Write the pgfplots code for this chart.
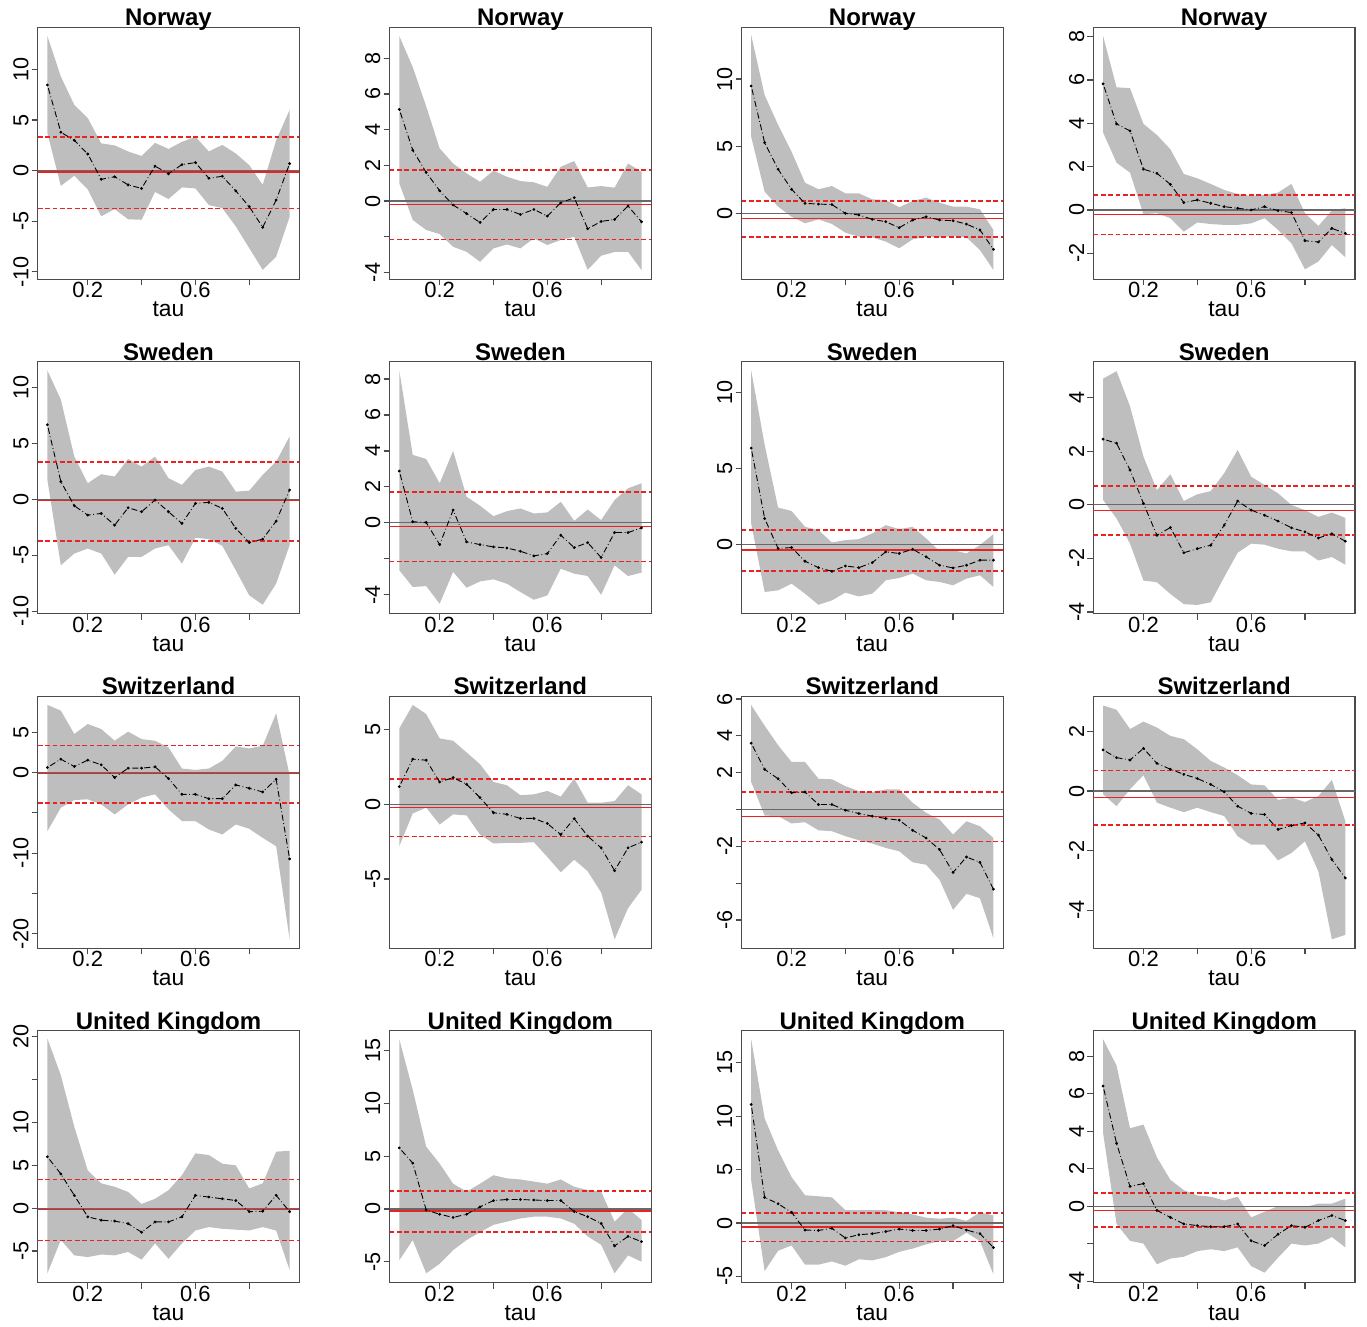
\documentclass[border=0pt]{standalone}
\usepackage{fontspec}
\setmainfont{Liberation Sans}
\usepackage{pgfplots}
\usepackage{pgfplotstable}
\pgfplotsset{compat=1.18}
\usepgfplotslibrary{fillbetween}
\definecolor{bandgray}{RGB}{190,190,190}
\definecolor{zerogray}{RGB}{105,105,105}
\definecolor{refred}{RGB}{232,35,35}
\definecolor{boxgray}{RGB}{75,75,75}

\pgfplotsset{
 panel/.style={
  scale only axis, width=130.8pt, height=126pt, anchor=south west,
  xmin=0.014, xmax=0.986,
  xtick={0.2,0.4,0.6,0.8}, xticklabels={0.2,,0.6,},
  xtick pos=bottom, ytick pos=left,
  tick align=outside, major tick length=3pt,
  axis line style={draw=boxgray, line width=0.6pt},
  tick style={draw=boxgray, line width=0.6pt},
  xticklabel style={font=\fontsize{11}{13}\selectfont, anchor=base},
  xticklabel shift=6.2pt,
  yticklabel style={font=\fontsize{10.8}{12}\selectfont, rotate=90, anchor=base},
  yticklabel shift=1.7pt,
  xlabel={tau},
  xlabel style={at={(axis description cs:0.5,0)}, anchor=base, yshift=-18.7pt, font=\fontsize{11.4}{13}\selectfont},
  every axis title/.style={at={(axis description cs:0.5,1)}, anchor=base, yshift=0.7pt, font=\bfseries\fontsize{12}{14}\selectfont},
  clip=true,
 },
 midline/.style={black, line width=0.45pt, dash pattern=on 0.4pt off 1.3pt on 3pt off 1.3pt, mark=*, mark size=0.45pt, mark options={solid}},
 zeroline/.style={zerogray, line width=0.6pt},
 refline/.style={refred, line width=0.65pt},
 refdash/.style={refred, line width=0.85pt, line cap=butt, dash pattern=on 2.4pt off 1.3pt},
}

\newcommand{\reflines}[3]{%
 \addplot[zeroline] coordinates {(0.014,0) (0.986,0)};
 \addplot[refline] coordinates {(0.014,#2) (0.986,#2)};
 \addplot[refdash] coordinates {(0.014,#1) (0.986,#1)};
 \addplot[refdash] coordinates {(0.014,#3) (0.986,#3)};}
\newcommand{\refA}{\reflines{3.36}{-0.13}{-3.75}}
\newcommand{\refB}{\reflines{1.72}{-0.19}{-2.15}}
\newcommand{\refC}{\reflines{0.94}{-0.37}{-1.74}}
\newcommand{\refD}{\reflines{0.69}{-0.22}{-1.13}}

\newcommand{\panel}[9]{%
 \begin{axis}[panel, at={(#1pt,#2pt)}, ymin=#4, ymax=#5, ytick={#6}, yticklabels={#7}, title={#8}]
  \addplot[name path=hi, draw=none] table[x=tau,y=hi]{#3};
  \addplot[name path=lo, draw=none] table[x=tau,y=lo]{#3};
  \addplot[fill=bandgray, draw=none] fill between[of=hi and lo];
  #9
  \addplot[midline] table[x=tau,y=mid]{#3};
 \end{axis}}

% Norway
\pgfplotstableread{
tau lo mid hi
0.05 3.7 8.47 13.3
0.10 -1.5 3.8 9.3
0.15 -0.5 3.0 6.5
0.20 -1.85 1.65 5.2
0.25 -4.5 -0.85 2.7
0.30 -3.8 -0.6 2.5
0.35 -4.8 -1.4 1.9
0.40 -4.85 -1.75 1.45
0.45 -2.1 0.45 2.75
0.50 -2.8 -0.3 2.15
0.55 -1.65 0.6 2.85
0.60 -1.75 0.8 3.35
0.65 -3.4 -0.75 1.9
0.70 -3.7 -0.55 2.55
0.75 -5.5 -2.0 1.7
0.80 -7.65 -3.55 0.55
0.85 -9.8 -5.6 -1.4
0.90 -8.5 -2.9 3.0
0.95 -4.55 0.7 6.0
}\tA
\pgfplotstableread{
tau lo mid hi
0.05 0.99 5.13 9.24
0.10 -1.06 2.85 7.5
0.15 -1.62 1.6 5.3
0.20 -1.85 0.58 2.95
0.25 -2.56 -0.22 2.1
0.30 -2.84 -0.7 1.55
0.35 -3.4 -1.2 1.08
0.40 -2.65 -0.47 1.7
0.45 -2.43 -0.47 1.36
0.50 -2.65 -0.75 1.12
0.55 -2.09 -0.47 1.05
0.60 -2.46 -0.84 0.8
0.65 -2.18 -0.1 1.92
0.70 -2.0 0.19 2.24
0.75 -3.85 -1.55 0.76
0.80 -3.06 -1.14 0.84
0.85 -2.85 -1.03 0.75
0.90 -2.84 -0.28 2.1
0.95 -3.86 -1.16 1.64
}\tB
\pgfplotstableread{
tau lo mid hi
0.05 5.7 9.48 13.27
0.10 1.61 5.26 8.8
0.15 0.5 3.28 6.58
0.20 -0.25 1.79 4.59
0.25 -0.74 0.74 2.28
0.30 -0.45 0.69 1.79
0.35 -0.79 0.65 2.03
0.40 -1.44 0 1.49
0.45 -1.74 -0.12 1.49
0.50 -1.79 -0.45 1.04
0.55 -2.1 -0.62 0.99
0.60 -2.6 -1.07 0.45
0.65 -1.94 -0.5 0.92
0.70 -1.74 -0.25 1.17
0.75 -1.79 -0.5 0.79
0.80 -1.69 -0.55 0.5
0.85 -1.79 -0.8 0.5
0.90 -2.73 -1.24 0.3
0.95 -4.22 -2.68 -1.24
}\tC
\pgfplotstableread{
tau lo mid hi
0.05 3.57 5.82 8.03
0.10 2.18 3.97 5.66
0.15 1.72 3.65 5.62
0.20 -0.2 1.88 3.97
0.25 -0.15 1.69 3.46
0.30 -0.38 1.18 2.8
0.35 -1.0 0.34 1.66
0.40 -0.58 0.46 1.46
0.45 -0.65 0.31 1.2
0.50 -0.69 0.15 0.92
0.55 -0.69 0.08 0.74
0.60 -0.62 0 0.65
0.65 -0.38 0.15 0.69
0.70 -0.92 -0.03 0.8
0.75 -1.54 -0.12 1.2
0.80 -2.74 -1.42 -0.15
0.85 -2.38 -1.48 -0.74
0.90 -1.62 -0.85 -0.03
0.95 -2.18 -1.08 0.08
}\tD
% Sweden
\pgfplotstableread{
tau lo mid hi
0.05 1.74 6.68 11.53
0.10 -5.9 1.59 8.92
0.15 -4.85 -0.57 3.83
0.20 -4.4 -1.41 1.44
0.25 -4.85 -1.26 2.25
0.30 -6.74 -2.31 2.04
0.35 -5.15 -0.75 3.62
0.40 -5.15 -1.11 2.93
0.45 -4.4 -0.06 3.83
0.50 -4.1 -1.11 1.89
0.55 -5.75 -2.16 1.29
0.60 -3.44 -0.36 2.63
0.65 -3.56 -0.27 2.93
0.70 -4.16 -0.81 2.49
0.75 -6.35 -2.6 0.69
0.80 -8.59 -3.86 0.78
0.85 -9.43 -3.56 2.19
0.90 -7.54 -1.95 3.38
0.95 -4.1 0.84 5.63
}\tE
\pgfplotstableread{
tau lo mid hi
0.05 -2.64 2.88 8.47
0.10 -3.57 0.06 3.78
0.15 -3.52 0.02 3.55
0.20 -4.5 -1.21 2.2
0.25 -2.73 0.71 4.0
0.30 -3.61 -1.06 1.45
0.35 -3.26 -1.21 0.95
0.40 -3.14 -1.34 0.37
0.45 -3.39 -1.4 0.65
0.50 -3.85 -1.58 0.8
0.55 -4.28 -1.84 0.52
0.60 -4.04 -1.71 0.58
0.65 -2.55 -0.69 1.17
0.70 -2.83 -1.38 0.11
0.75 -2.96 -1.1 0.74
0.80 -4.0 -1.93 0.15
0.85 -2.36 -0.54 1.27
0.90 -2.96 -0.54 1.92
0.95 -2.77 -0.28 2.2
}\tF
\pgfplotstableread{
tau lo mid hi
0.05 1.38 6.33 11.43
0.10 -3.12 1.71 6.55
0.15 -3.01 -0.26 2.42
0.20 -2.57 -0.2 2.2
0.25 -3.23 -1.1 1.16
0.30 -3.96 -1.52 0.95
0.35 -3.67 -1.76 0.13
0.40 -3.16 -1.41 0.29
0.45 -3.41 -1.52 0.35
0.50 -3.23 -1.19 0.73
0.55 -2.35 -0.48 1.27
0.60 -2.2 -0.59 1.01
0.65 -1.91 -0.31 1.16
0.70 -2.35 -0.81 0.4
0.75 -2.46 -1.36 -0.44
0.80 -2.68 -1.54 -0.37
0.85 -2.24 -1.36 -0.59
0.90 -2.02 -1.03 -0.04
0.95 -2.79 -1.03 0.68
}\tG
\pgfplotstableread{
tau lo mid hi
0.05 0.18 2.45 4.71
0.10 -0.51 2.3 4.99
0.15 -1.45 1.3 3.68
0.20 -2.83 0.05 1.8
0.25 -2.89 -1.14 0.55
0.30 -3.33 -0.85 1.14
0.35 -3.71 -1.79 0.14
0.40 -3.74 -1.64 0.39
0.45 -3.64 -1.51 0.51
0.50 -2.7 -0.76 1.18
0.55 -1.79 0.14 2.05
0.60 -1.45 -0.2 1.05
0.65 -1.49 -0.39 0.74
0.70 -1.64 -0.61 0.43
0.75 -1.74 -0.86 -0.01
0.80 -1.74 -1.01 -0.2
0.85 -2.08 -1.24 -0.45
0.90 -1.95 -1.08 -0.29
0.95 -2.24 -1.36 -0.49
}\tH
% Switzerland
\pgfplotstableread{
tau lo mid hi
0.05 -7.27 0.62 8.39
0.10 -4.36 1.66 7.68
0.15 -3.41 0.75 4.78
0.20 -3.32 1.54 6.02
0.25 -3.95 0.96 5.4
0.30 -5.19 -0.62 3.95
0.35 -3.95 0.54 5.07
0.40 -3.11 0.54 4.15
0.45 -2.7 0.71 3.95
0.50 -4.57 -0.75 3.11
0.55 -6.02 -2.7 0.5
0.60 -6.02 -2.7 0.33
0.65 -7.06 -3.24 0.5
0.70 -7.68 -3.24 1.45
0.75 -6.44 -1.54 3.24
0.80 -6.98 -1.95 2.99
0.85 -8.1 -2.41 3.32
0.90 -9.14 -0.83 7.35
0.95 -20.68 -10.71 -0.33
}\tI
\pgfplotstableread{
tau lo mid hi
0.05 -2.8 1.19 5.09
0.10 -0.61 3.03 6.66
0.15 -0.22 2.96 6.05
0.20 -1.35 1.5 4.42
0.25 -0.67 1.79 4.26
0.30 -0.74 1.35 3.48
0.35 -2.02 0.45 2.69
0.40 -2.62 -0.56 1.5
0.45 -2.58 -0.67 1.28
0.50 -2.58 -0.94 0.61
0.55 -2.53 -0.94 0.67
0.60 -3.52 -1.28 0.9
0.65 -4.55 -2.02 0.52
0.70 -3.7 -0.96 1.73
0.75 -4.48 -2.13 0.11
0.80 -5.9 -2.91 0.11
0.85 -9.04 -4.44 0.22
0.90 -6.95 -2.91 1.28
0.95 -5.72 -2.53 0.67
}\tJ
\pgfplotstableread{
tau lo mid hi
0.05 1.49 3.6 5.67
0.10 -0.33 2.18 4.55
0.15 -0.36 1.67 3.49
0.20 -0.76 0.91 2.58
0.25 -0.69 0.95 2.58
0.30 -1.13 0.27 1.67
0.35 -1.18 0.27 1.64
0.40 -1.45 -0.04 1.27
0.45 -1.67 -0.22 1.0
0.50 -1.85 -0.36 0.95
0.55 -2.09 -0.49 1.09
0.60 -2.27 -0.58 1.09
0.65 -2.87 -1.13 0.36
0.70 -3.0 -1.55 -0.18
0.75 -3.82 -2.18 -0.55
0.80 -5.45 -3.42 -1.36
0.85 -4.58 -2.58 -0.64
0.90 -4.82 -2.87 -0.91
0.95 -7.0 -4.33 -1.55
}\tK
\pgfplotstableread{
tau lo mid hi
0.05 -0.11 1.38 2.87
0.10 -0.51 1.12 2.73
0.15 0.06 1.04 2.08
0.20 0.53 1.43 2.33
0.25 -0.39 0.93 2.13
0.30 -0.56 0.73 1.85
0.35 -0.71 0.56 1.74
0.40 -0.56 0.42 1.4
0.45 -0.71 0.22 1.01
0.50 -0.84 -0.03 0.79
0.55 -1.52 -0.51 0.53
0.60 -1.8 -0.75 0.22
0.65 -1.8 -0.79 0.19
0.70 -2.33 -1.29 -0.3
0.75 -2.08 -1.16 -0.22
0.80 -1.69 -1.07 -0.37
0.85 -2.7 -1.48 -0.17
0.90 -4.98 -2.3 0.37
0.95 -4.83 -2.92 -1.01
}\tL
% United Kingdom
\pgfplotstableread{
tau lo mid hi
0.05 -7.6 6.0 19.8
0.10 -3.7 4.0 15.5
0.15 -5.5 1.5 9.5
0.20 -5.7 -1.0 4.4
0.25 -5.4 -1.4 2.9
0.30 -5.5 -1.5 2.5
0.35 -5.1 -1.8 1.9
0.40 -6.0 -2.8 0.5
0.45 -4.1 -1.6 1.1
0.50 -5.9 -1.6 2.1
0.55 -4.1 -1.0 3.85
0.60 -2.6 1.5 6.4
0.65 -2.2 1.3 6.2
0.70 -2.4 1.1 5.2
0.75 -2.5 0.9 5.0
0.80 -2.6 -0.4 2.3
0.85 -2.2 -0.35 2.9
0.90 -2.6 1.5 6.6
0.95 -7.2 -0.4 6.7
}\tM
\pgfplotstableread{
tau lo mid hi
0.05 -4.86 5.8 16.1
0.10 -2.95 4.35 11.3
0.15 -6.1 -0.1 5.9
0.20 -5.2 -0.5 4.3
0.25 -3.9 -0.8 2.4
0.30 -2.95 -0.5 1.65
0.35 -2.2 0.2 2.4
0.40 -1.5 0.8 3.2
0.45 -1.2 0.9 2.9
0.50 -0.9 0.9 2.8
0.55 -0.73 0.85 2.6
0.60 -0.73 0.8 2.4
0.65 -0.9 0.8 2.8
0.70 -1.4 -0.25 2.1
0.75 -2.6 -0.73 1.8
0.80 -3.4 -1.37 1.65
0.85 -6.1 -3.5 -1.2
0.90 -4.4 -2.6 0.05
0.95 -5.0 -3.1 -1.05
}\tN
\pgfplotstableread{
tau lo mid hi
0.05 4.0 11.1 17.2
0.10 -4.5 2.4 9.8
0.15 -2.6 1.8 6.8
0.20 -2.1 1.0 4.3
0.25 -3.9 -0.66 2.6
0.30 -3.9 -0.7 2.5
0.35 -3.6 -0.5 2.4
0.40 -4.0 -1.4 1.2
0.45 -3.4 -1.1 1.2
0.50 -3.5 -1.0 1.2
0.55 -3.2 -0.8 1.2
0.60 -2.7 -0.57 1.0
0.65 -2.4 -0.7 0.8
0.70 -2.0 -0.7 0.5
0.75 -1.7 -0.57 0.4
0.80 -1.7 -0.25 0.5
0.85 -0.9 -0.66 0.2
0.90 -1.7 -1.0 1.0
0.95 -4.8 -2.3 0.7
}\tO
\pgfplotstableread{
tau lo mid hi
0.05 3.9 6.4 8.9
0.10 -0.95 3.35 7.5
0.15 -1.85 1.05 4.15
0.20 -2.0 1.2 4.35
0.25 -3.1 -0.23 2.6
0.30 -2.8 -0.6 1.4
0.35 -2.7 -0.95 0.85
0.40 -2.4 -1.04 0.57
0.45 -2.3 -1.1 0.5
0.50 -2.4 -1.1 0.3
0.55 -2.2 -0.95 0.5
0.60 -3.2 -1.85 -0.6
0.65 -3.55 -2.1 -0.3
0.70 -2.75 -1.5 0.0
0.75 -2.0 -1.04 -0.05
0.80 -2.1 -1.13 -0.05
0.85 -2.0 -0.77 0.13
0.90 -1.65 -0.5 0.13
0.95 -2.2 -0.77 0.4
}\tP

\begin{document}
\begin{tikzpicture}
% row 1: Norway
\panel{18.85}{523.85}{\tA}{-10.73}{14.17}{-10,-5,0,5,10}{-10,-5,0,5,10}{Norway}{\refA}
\panel{194.8}{523.85}{\tB}{-4.38}{9.73}{-4,-2,0,2,4,6,8}{-4,,0,2,4,6,8}{Norway}{\refB}
\panel{370.75}{523.85}{\tC}{-4.91}{13.85}{0,5,10}{0,5,10}{Norway}{\refC}
\panel{546.7}{523.85}{\tD}{-3.2}{8.43}{-2,0,2,4,6,8}{-2,0,2,4,6,8}{Norway}{\refD}
% row 2: Sweden
\panel{18.85}{356.6}{\tE}{-10.24}{12.31}{-10,-5,0,5,10}{-10,-5,0,5,10}{Sweden}{\refA}
\panel{194.8}{356.6}{\tF}{-5.06}{8.96}{-4,-2,0,2,4,6,8}{-4,,0,2,4,6,8}{Sweden}{\refB}
\panel{370.75}{356.6}{\tG}{-4.55}{12.0}{0,5,10}{0,5,10}{Sweden}{\refC}
\panel{546.7}{356.6}{\tH}{-4.07}{5.34}{-4,-2,0,2,4}{-4,-2,0,2,4}{Sweden}{\refD}
% row 3: Switzerland
\panel{18.85}{189.35}{\tI}{-21.8}{9.46}{-20,-15,-10,-5,0,5}{-20,,-10,,0,5}{Switzerland}{\refA}
\panel{194.8}{189.35}{\tJ}{-9.64}{7.24}{-5,0,5}{-5,0,5}{Switzerland}{\refB}
\panel{370.75}{189.35}{\tK}{-7.54}{6.15}{-6,-4,-2,0,2,4,6}{-6,,-2,,2,4,6}{Switzerland}{\refC}
\panel{546.7}{189.35}{\tL}{-5.28}{3.18}{-4,-2,0,2}{-4,-2,0,2}{Switzerland}{\refD}
% row 4: United Kingdom
\panel{18.85}{22.1}{\tM}{-8.7}{20.7}{-5,0,5,10,15,20}{-5,0,5,10,,20}{United Kingdom}{\refA}
\panel{194.8}{22.1}{\tN}{-7.0}{16.9}{-5,0,5,10,15}{-5,0,5,10,15}{United Kingdom}{\refB}
\panel{370.75}{22.1}{\tO}{-5.6}{18.0}{-5,0,5,10,15}{-5,0,5,10,15}{United Kingdom}{\refC}
\panel{546.7}{22.1}{\tP}{-4.09}{9.35}{-4,-2,0,2,4,6,8}{-4,,0,2,4,6,8}{United Kingdom}{\refD}
\pgfresetboundingbox
\path[use as bounding box] (0,0) rectangle (683.5pt,663.5pt);
\end{tikzpicture}
\end{document}
